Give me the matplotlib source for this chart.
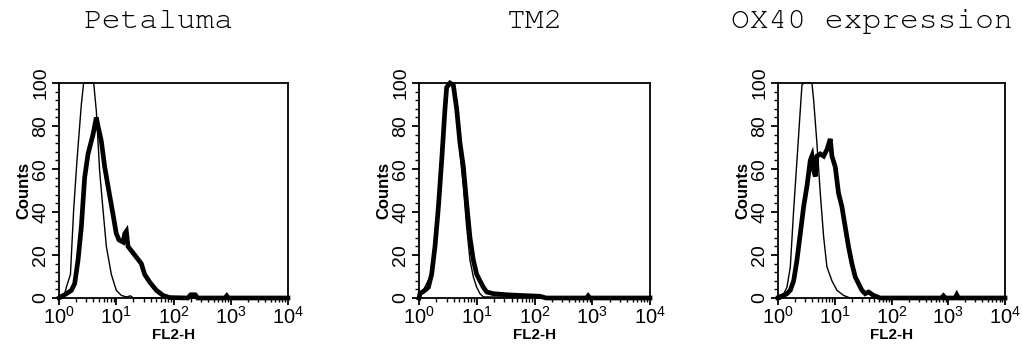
import numpy as np
import matplotlib
matplotlib.use("Agg")
import matplotlib.pyplot as plt
from matplotlib.ticker import FixedLocator, MultipleLocator, NullFormatter

plt.rcParams['font.family'] = ['Liberation Sans', 'DejaVu Sans']
plt.rcParams['mathtext.fontset'] = 'custom'
plt.rcParams['mathtext.rm'] = 'Liberation Sans'
plt.rcParams['mathtext.it'] = 'Liberation Sans'
plt.rcParams['mathtext.bf'] = 'Liberation Sans:bold'

titles = ["Petaluma", "TM2", "OX40 expression"]
x_tick_exp = [0, 1, 2, 3, 4]
y_ticks = [0, 20, 40, 60, 80, 100]

# FL2-H positions given as log10 channel values, counts in % of max
pet_ctrl_log = [0.0, 0.10, 0.128, 0.2, 0.256, 0.314, 0.39, 0.43, 0.606, 0.652, 0.71,
                0.769, 0.827, 0.914, 1.0, 1.089, 1.176, 1.25, 1.3, 4.0]
pet_ctrl_cnt = [1, 2, 5, 11, 41, 64, 90, 100, 100, 87, 59,
                41, 24, 11, 3.6, 1.2, 0.5, 1.0, 0, 0]
pet_test_log = [0.0, 0.128, 0.215, 0.274, 0.332, 0.39, 0.448, 0.507, 0.594, 0.652, 0.681,
                0.739, 0.798, 0.856, 0.943, 1.0, 1.048, 1.118, 1.15, 1.176, 1.205, 1.263,
                1.351, 1.438, 1.496, 1.584, 1.7, 1.817, 1.933, 2.25, 2.3, 2.38, 2.42,
                2.9, 2.93, 2.96, 4.0]
pet_test_cnt = [0, 2, 3.5, 6.7, 17.5, 33, 56, 67, 76, 84, 80,
                73, 61, 52, 39, 30, 27, 26, 30, 31, 24, 22,
                19, 16, 11, 7.4, 3.6, 1.2, 0.2, 0, 1.5, 1.5, 0,
                0, 1.0, 0, 0]

tm2_ctrl_log = [0.0, 0.075, 0.19, 0.248, 0.306, 0.364, 0.422, 0.468, 0.508, 0.595, 0.652,
                0.71, 0.768, 0.825, 0.883, 0.941, 0.999, 1.056, 1.114, 4.0]
tm2_ctrl_cnt = [1, 3.6, 9.8, 20.7, 37.6, 59.6, 82.9, 98.4, 100, 99, 88,
                67, 52, 33, 17.6, 9.8, 5, 2, 0.5, 0]
tm2_test_log = [0.0, 0.017, 0.104, 0.162, 0.219, 0.277, 0.335, 0.393, 0.45, 0.479, 0.537,
                0.595, 0.652, 0.71, 0.768, 0.825, 0.883, 0.941, 0.999, 1.056, 1.114,
                1.172, 1.287, 1.518, 1.749, 2.095, 2.2, 2.9, 2.93, 2.96, 4.0]
tm2_test_cnt = [0, 2, 3.6, 5, 11, 24, 42, 64, 88, 98, 100,
                99, 88, 72, 61, 44, 28, 17.6, 11, 8, 5,
                2.8, 2, 1.5, 1.2, 0.8, 0, 0, 1.0, 0, 0]

ox_ctrl_log = [0.0, 0.012, 0.1, 0.158, 0.217, 0.276, 0.334, 0.393, 0.422, 0.452, 0.598,
               0.628, 0.686, 0.745, 0.804, 0.862, 0.95, 1.038, 1.155, 1.273, 4.0]
ox_ctrl_cnt = [0, 1.2, 2, 5, 14.5, 41, 64, 87.6, 99, 100, 100,
               92, 72, 48.7, 28.5, 14.5, 8, 3.6, 1.2, 0, 0]
ox_test_log = [0.0, 0.012, 0.1, 0.158, 0.217, 0.276, 0.334, 0.393, 0.452, 0.51, 0.569,
               0.598, 0.628, 0.657, 0.686, 0.745, 0.804, 0.862, 0.921, 0.95, 1.009,
               1.067, 1.126, 1.185, 1.243, 1.302, 1.361, 1.419, 1.478, 1.537, 1.595,
               1.683, 1.8, 2.88, 2.915, 2.95, 3.12, 3.15, 3.18, 4.0]
ox_test_cnt = [0, 0, 1.2, 2, 3.6, 8, 17.6, 30, 42.5, 52, 64,
               66, 59.6, 56.5, 66, 67, 66, 69, 74, 66, 61,
               48.7, 42.5, 33, 23.8, 16, 9.8, 6.7, 3.6, 2, 2.8,
               1.2, 0, 0, 1.0, 0, 0, 1.5, 0, 0]

panels = [
    (pet_ctrl_log, pet_ctrl_cnt, pet_test_log, pet_test_cnt),
    (tm2_ctrl_log, tm2_ctrl_cnt, tm2_test_log, tm2_test_cnt),
    (ox_ctrl_log, ox_ctrl_cnt, ox_test_log, ox_test_cnt),
]

W, H = 1022, 348
fig = plt.figure(figsize=(W / 100, H / 100), dpi=100)

axes_px = [(59, 288), (419, 650), (778, 1005)]
top_px, bot_px = 83, 298
title_x = [159, 535, 872]
mono = ['Nimbus Mono PS', 'FreeMono', 'Courier New', 'Courier', 'Liberation Mono']

for i, ((cl, cc, tl, tc), (x0, x1)) in enumerate(zip(panels, axes_px)):
    ax = fig.add_axes([x0 / W, 1 - bot_px / H, (x1 - x0) / W, (bot_px - top_px) / H])
    ax.set_xscale('log')
    ax.set_xlim(1, 1e4)
    ax.set_ylim(0, 100)
    ax.plot(10 ** np.array(cl), cc, color='black', lw=1.0, clip_on=False, zorder=3)
    ax.plot(10 ** np.array(tl), tc, color='black', lw=3.4, clip_on=False, zorder=4,
            solid_joinstyle='miter')
    for s in ax.spines.values():
        s.set_linewidth(1.3)
    ax.xaxis.set_major_locator(FixedLocator([10.0 ** e for e in x_tick_exp]))
    ax.set_xticklabels([r'$\mathregular{10^{%d}}$' % e for e in x_tick_exp])
    minors = [m * 10.0 ** e for e in range(4) for m in range(2, 10)]
    ax.xaxis.set_minor_locator(FixedLocator(minors))
    ax.xaxis.set_minor_formatter(NullFormatter())
    ax.set_yticks(y_ticks)
    ax.set_yticklabels([str(v) for v in y_ticks], rotation=90, va='center')
    ax.yaxis.set_minor_locator(MultipleLocator(4))
    ax.tick_params(axis='both', which='major', direction='out', length=5, width=1.3,
                   labelsize=14, pad=2)
    ax.tick_params(axis='both', which='minor', direction='out', length=3, width=1.0)
    ax.tick_params(axis='x', labelsize=14.5, pad=1)
    ax.set_xlabel("FL2-H", fontsize=11, fontweight='bold', labelpad=0)
    ax.set_ylabel("Counts", fontsize=12, fontweight='bold', labelpad=1)
    fig.text(title_x[i] / W, 1 - 22 / H, titles[i], family=mono,
             fontsize=22.5, ha='center', va='center')

fig.savefig("out.png", dpi=100)
